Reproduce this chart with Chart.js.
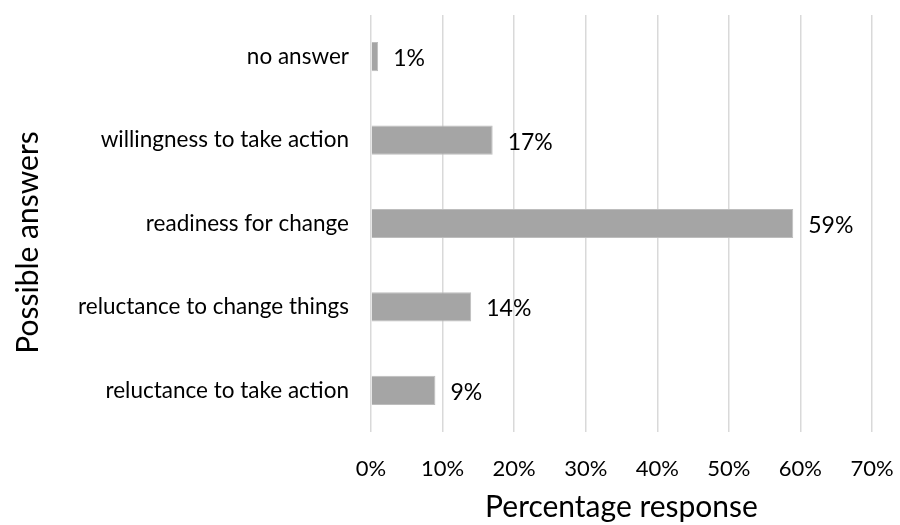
<!DOCTYPE html>
<html>
<head>
<meta charset="utf-8">
<script src="https://cdn.jsdelivr.net/npm/chart.js@4/dist/chart.umd.min.js"></script>
<style>
  html, body { margin: 0; padding: 0; background: #fff; }
  #wrap { width: 900px; height: 525px; }
</style>
</head>
<body>
<div id="wrap"><canvas id="chart"></canvas></div>
<script>
const answers = [
  'no answer',
  'willingness to take action',
  'readiness for change',
  'reluctance to change things',
  'reluctance to take action'
];
const responses = [1, 17, 59, 14, 9];
const xTicks = [0, 10, 20, 30, 40, 50, 60, 70];

const FONT = 'Lato, "Open Sans", sans-serif';

// writes the percentage just past the end of each bar
const barValueLabels = {
  id: 'barValueLabels',
  afterDatasetsDraw(chart) {
    const ctx = chart.ctx;
    const meta = chart.getDatasetMeta(0);
    ctx.save();
    ctx.font = '23px ' + FONT;
    ctx.fillStyle = '#000';
    ctx.textAlign = 'left';
    ctx.textBaseline = 'middle';
    meta.data.forEach((bar, i) => {
      ctx.fillText(responses[i] + '%', bar.x + 15, bar.y + 2);
    });
    ctx.restore();
  }
};

// vertical axis title, sitting a little below the plot's middle
const sideTitle = {
  id: 'sideTitle',
  afterDraw(chart) {
    const ctx = chart.ctx;
    const area = chart.chartArea;
    ctx.save();
    ctx.translate(28, (area.top + area.bottom) / 2 + 19);
    ctx.rotate(-Math.PI / 2);
    ctx.font = '30px ' + FONT;
    ctx.fillStyle = '#000';
    ctx.textAlign = 'center';
    ctx.textBaseline = 'middle';
    ctx.fillText('Possible answers', 0, 0);
    ctx.restore();
  }
};

new Chart(document.getElementById('chart'), {
  type: 'bar',
  data: {
    labels: answers,
    datasets: [{
      data: responses,
      backgroundColor: '#a5a5a5',
      borderColor: '#bdbdbd',
      borderWidth: 1,
      barPercentage: 0.7,
      categoryPercentage: 0.5
    }]
  },
  options: {
    indexAxis: 'y',
    responsive: true,
    maintainAspectRatio: false,
    animation: false,
    layout: { padding: { top: 15, right: 28, bottom: 0, left: 6 } },
    plugins: {
      legend: { display: false },
      tooltip: { enabled: false }
    },
    scales: {
      x: {
        min: 0,
        max: 70,
        afterBuildTicks: axis => { axis.ticks = xTicks.map(v => ({ value: v })); },
        afterFit: axis => {
          axis.height = 93;
          axis.paddingLeft = 0;
          axis.paddingRight = 0;
        },
        grid: { color: '#d9d9d9', lineWidth: 1.5, drawTicks: false },
        border: { display: false },
        ticks: {
          padding: 24,
          color: '#000',
          font: { family: FONT, size: 22 },
          callback: v => v + '%'
        },
        title: {
          display: true,
          text: 'Percentage response',
          color: '#000',
          font: { family: FONT, size: 30 },
          padding: { top: 2, bottom: 0 }
        }
      },
      y: {
        afterFit: axis => {
          axis.width = 365;
          axis.paddingTop = 0;
          axis.paddingBottom = 0;
        },
        grid: { display: false, drawTicks: false },
        border: { display: false },
        ticks: {
          padding: 22,
          color: '#000',
          font: { family: FONT, size: 22.5 }
        }
      }
    }
  },
  plugins: [barValueLabels, sideTitle]
});
</script>
</body>
</html>
